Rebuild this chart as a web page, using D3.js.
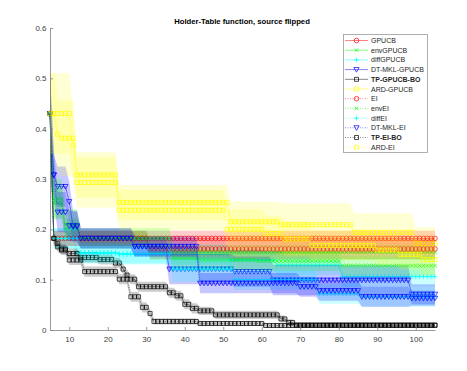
<!DOCTYPE html>
<html><head><meta charset="utf-8">
<script src="https://cdn.jsdelivr.net/npm/d3@7"></script>
<style>body{margin:0;background:#fff} text{font-family:"Liberation Sans",Arial,Helvetica,sans-serif}</style>
</head><body><svg id="c" width="467" height="371"></svg>
<script>
// ---- data: step changes [start iteration, mean, half band width] ----
const iterFirst = 5, iterLast = 105;
const seriesNames = ["GPUCB","envGPUCB","diffGPUCB","DT-MKL-GPUCB","TP-GPUCB-BO","ARD-GPUCB","EI","envEI","diffEI","DT-MKL-EI","TP-EI-BO","ARD-EI"];
const gpucbSteps = [[5,0.43,0.08],[6,0.182,0.015]];
const envGpucbSteps = [[5,0.43,0.08],[6,0.252,0.03],[9,0.201,0.02],[13,0.182,0.015],[31,0.154,0.015]];
const diffGpucbSteps = [[5,0.43,0.08],[6,0.182,0.02],[12,0.154,0.02],[23,0.150,0.02],[52,0.139,0.02],[64,0.129,0.02],[81,0.106,0.02]];
const dtGpucbSteps = [[5,0.43,0.08],[6,0.308,0.04],[7,0.285,0.04],[10,0.255,0.04],[11,0.205,0.03],[13,0.182,0.02],[27,0.166,0.02],[36,0.121,0.03],[53,0.116,0.03],[63,0.099,0.03],[99,0.071,0.02]];
const tpGpucbSteps = [[5,0.43,0.05],[6,0.182,0.01],[7,0.172,0.01],[8,0.161,0.01],[10,0.152,0.01],[13,0.144,0.01],[18,0.140,0.01],[22,0.133,0.01],[24,0.121,0.01],[25,0.109,0.01],[26,0.101,0.01],[28,0.086,0.01],[36,0.074,0.01],[38,0.068,0.01],[40,0.051,0.01],[42,0.043,0.01],[44,0.038,0.008],[48,0.030,0.008],[65,0.022,0.007],[67,0.015,0.006],[69,0.010,0.005]];
const ardGpucbSteps = [[5,0.43,0.08],[7,0.389,0.07],[8,0.381,0.075],[12,0.308,0.045],[23,0.253,0.035],[52,0.215,0.04],[65,0.209,0.043],[84,0.194,0.038],[100,0.172,0.032]];
const eiSteps = [[5,0.43,0.08],[6,0.182,0.015],[31,0.161,0.02]];
const envEiSteps = [[5,0.43,0.08],[6,0.26,0.04],[9,0.21,0.03],[13,0.182,0.02],[37,0.142,0.02],[44,0.139,0.02],[59,0.137,0.02],[81,0.128,0.02]];
const diffEiSteps = [[5,0.43,0.08],[6,0.182,0.02],[13,0.152,0.02],[37,0.121,0.025],[53,0.100,0.02],[75,0.072,0.02],[86,0.066,0.02]];
const dtEiSteps = [[5,0.43,0.08],[6,0.308,0.05],[7,0.234,0.04],[10,0.207,0.03],[13,0.182,0.02],[27,0.166,0.02],[44,0.093,0.02],[70,0.086,0.02],[75,0.078,0.02],[86,0.066,0.02],[99,0.063,0.015]];
const tpEiSteps = [[5,0.43,0.05],[6,0.182,0.01],[7,0.165,0.01],[8,0.159,0.01],[10,0.139,0.01],[14,0.116,0.01],[23,0.101,0.01],[26,0.066,0.01],[29,0.045,0.01],[31,0.033,0.008],[32,0.017,0.006],[44,0.013,0.005],[61,0.009,0.005]];
const ardEiSteps = [[5,0.43,0.08],[11,0.367,0.07],[12,0.293,0.05],[23,0.238,0.04],[51,0.200,0.04],[61,0.192,0.035],[66,0.181,0.035],[73,0.168,0.03],[90,0.159,0.03],[96,0.150,0.03],[102,0.140,0.03]];
const xTicks = [10,20,30,40,50,60,70,80,90,100];
const yTicks = [0,0.1,0.2,0.3,0.4,0.5,0.6];
const titleText = "Holder-Table function, source flipped";

// ---- styles ----
const allSteps = [gpucbSteps,envGpucbSteps,diffGpucbSteps,dtGpucbSteps,tpGpucbSteps,ardGpucbSteps,eiSteps,envEiSteps,diffEiSteps,dtEiSteps,tpEiSteps,ardEiSteps];
const colors = ["#ff0000","#00ff00","#00ffff","#0000ff","#000000","#ffff00"];
const bandOpacity = [0.2,0.2,0.2,0.22,0.2,0.17];
const markers = ["o","x","+","v","s","s"];

const svg = d3.select("#c");
svg.append("rect").attr("width",467).attr("height",371).attr("fill","#fff");
const x = d3.scaleLinear().domain([5,105]).range([50,435]);
const y = d3.scaleLinear().domain([0,0.6]).range([330,28]);

function expand(steps){
  const out=[];
  for(let i=iterFirst;i<=iterLast;i++){
    let s=steps[0];
    for(const st of steps){ if(st[0]<=i) s=st; }
    out.push({i:i,m:s[1],e:s[2]});
  }
  return out;
}
function mk(type,cx,cy){
  if(type==="o"){const r=2.3;return `M${cx+r},${cy}A${r},${r} 0 1,1 ${cx-r},${cy}A${r},${r} 0 1,1 ${cx+r},${cy}Z`;}
  if(type==="x"){const r=1.8;return `M${cx-r},${cy-r}L${cx+r},${cy+r}M${cx-r},${cy+r}L${cx+r},${cy-r}`;}
  if(type==="+"){const r=2.5;return `M${cx-r},${cy}L${cx+r},${cy}M${cx},${cy-r}L${cx},${cy+r}`;}
  if(type==="v"){const r=2.6;return `M${cx-r},${cy-r*0.8}L${cx+r},${cy-r*0.8}L${cx},${cy+r}Z`;}
  const r=2;return `M${cx-r},${cy-r}h${2*r}v${2*r}h${-2*r}Z`;
}

svg.append("clipPath").attr("id","clip").append("rect").attr("x",50).attr("y",28).attr("width",385).attr("height",302);
const plot = svg.append("g");
const area = d3.area().x(d=>x(d.i)).y0(d=>y(Math.max(0,d.m-d.e))).y1(d=>y(d.m+d.e));
const line = d3.line().x(d=>x(d.i)).y(d=>y(d.m));

allSteps.forEach((steps,k)=>{
  const data = expand(steps);
  const c = colors[k%6], mType = markers[k%6], dotted = k>=6;
  plot.append("path").attr("d",area(data)).attr("fill",c).attr("fill-opacity",bandOpacity[k%6]).attr("stroke","none").attr("clip-path","url(#clip)");
  plot.append("path").attr("d",line(data)).attr("fill","none").attr("stroke",c).attr("stroke-width",0.8)
     .attr("stroke-opacity",0.6).attr("stroke-dasharray",dotted?"1,1.5":null);
  plot.append("path").attr("d",data.map(d=>mk(mType,x(d.i),y(d.m))).join(""))
     .attr("fill","none").attr("stroke",c).attr("stroke-width",0.7);
});

// ---- axes ----
const axisColor="#808080", labelColor="#404040";
const gx = svg.append("g").attr("transform","translate(0,330)")
  .call(d3.axisBottom(x).tickValues(xTicks).tickSize(-3).tickSizeOuter(0).tickPadding(6));
const gy = svg.append("g").attr("transform","translate(50,0)")
  .call(d3.axisLeft(y).tickValues(yTicks).tickSize(-3).tickSizeOuter(0).tickPadding(3.5)
    .tickFormat(d=>d===0?"0":d3.format(".1f")(d)));
[gx,gy].forEach(g=>{
  g.select(".domain").attr("stroke",axisColor).attr("stroke-width",0.8);
  g.selectAll(".tick line").attr("stroke",axisColor).attr("stroke-width",0.8);
  g.selectAll(".tick text").attr("fill",labelColor).attr("font-size",8).attr("font-family",'"Liberation Sans",Arial,sans-serif');
});

svg.append("text").attr("x",242).attr("y",24).attr("text-anchor","middle").attr("font-size",7.7)
  .attr("font-weight","bold").attr("fill","#000").text(titleText);

// ---- legend ----
const lg = svg.append("g");
lg.append("rect").attr("x",343.5).attr("y",34.5).attr("width",84).attr("height",118)
  .attr("fill","#fff").attr("stroke","#999").attr("stroke-width",0.8);
seriesNames.forEach((name,k)=>{
  const ly = 40.5 + k*9.7;
  const c = colors[k%6];
  lg.append("line").attr("x1",345).attr("x2",368).attr("y1",ly).attr("y2",ly).attr("stroke",c)
    .attr("stroke-width",0.8).attr("stroke-opacity",0.6).attr("stroke-dasharray",k>=6?"1,1.5":null);
  lg.append("path").attr("d",mk(markers[k%6],356.5,ly)).attr("fill","none").attr("stroke",c).attr("stroke-width",0.7);
  lg.append("text").attr("x",371).attr("y",ly+2.5).attr("font-size",7).attr("fill","#262626")
    .attr("font-weight",name.startsWith("TP")?"bold":"normal").text(name);
});
</script></body></html>
